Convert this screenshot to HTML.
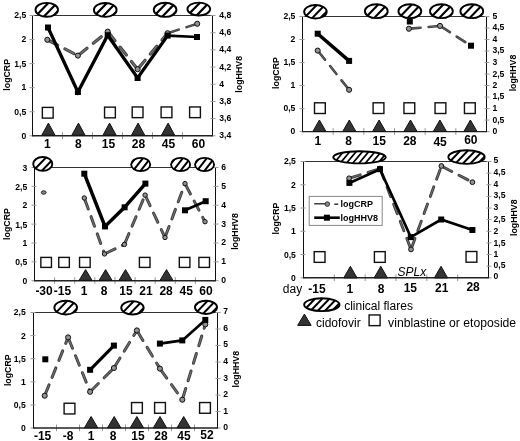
<!DOCTYPE html>
<html><head><meta charset="utf-8"><title>Figure</title>
<style>html,body{margin:0;padding:0;background:#fff;width:520px;height:441px;overflow:hidden;font-family:"Liberation Sans",sans-serif}svg{display:block;will-change:transform}</style>
</head><body>
<svg width="520" height="441" viewBox="0 0 520 441"><defs><clipPath id="c1"><ellipse cx="46.75" cy="9.8" rx="11.25" ry="6.95"/></clipPath><clipPath id="c2"><ellipse cx="105.25" cy="9.9" rx="11.35" ry="6.95"/></clipPath><clipPath id="c3"><ellipse cx="165.1" cy="9.85" rx="11.35" ry="7.05"/></clipPath><clipPath id="c4"><ellipse cx="198.8" cy="9.1" rx="11.35" ry="6.45"/></clipPath><clipPath id="c5"><ellipse cx="315.45" cy="11.75" rx="11.3" ry="6.8"/></clipPath><clipPath id="c6"><ellipse cx="376.3" cy="11.2" rx="11.4" ry="6.95"/></clipPath><clipPath id="c7"><ellipse cx="409.85" cy="11.2" rx="11.4" ry="6.95"/></clipPath><clipPath id="c8"><ellipse cx="441.4" cy="11.2" rx="11.4" ry="6.95"/></clipPath><clipPath id="c9"><ellipse cx="471.8" cy="11.2" rx="11.4" ry="6.95"/></clipPath><clipPath id="c10"><ellipse cx="42.75" cy="163.9" rx="9.55" ry="6.95"/></clipPath><clipPath id="c11"><ellipse cx="140.7" cy="164.5" rx="9.55" ry="6.65"/></clipPath><clipPath id="c12"><ellipse cx="180.6" cy="164.5" rx="9.55" ry="6.65"/></clipPath><clipPath id="c13"><ellipse cx="204.55" cy="164.5" rx="9.55" ry="6.65"/></clipPath><clipPath id="c14"><ellipse cx="359.5" cy="157.3" rx="26.25" ry="6.05"/></clipPath><clipPath id="c15"><ellipse cx="466.5" cy="157.05" rx="18.15" ry="6.8"/></clipPath><clipPath id="c16"><ellipse cx="65.7" cy="307.65" rx="11.35" ry="6.85"/></clipPath><clipPath id="c17"><ellipse cx="132.45" cy="307.85" rx="11.2" ry="6.7"/></clipPath><clipPath id="c18"><ellipse cx="206" cy="307.35" rx="11.05" ry="6.6"/></clipPath><clipPath id="c19"><ellipse cx="321.85" cy="304.7" rx="17.7" ry="6.45"/></clipPath></defs><rect width="100%" height="100%" fill="#fff"/><path d="M32.5 15.5H212.5" stroke="#333" stroke-width="1" fill="none"/>
<path d="M32.5 15V135.8" stroke="#111" stroke-width="1" fill="none"/>
<path d="M212.5 15V135.8" stroke="#111" stroke-width="1" fill="none"/>
<path d="M29.5 135.8H34.5 M29.5 111.74H34.5 M29.5 87.68H34.5 M29.5 63.62H34.5 M29.5 39.56H34.5 M29.5 15.5H34.5 M210.5 135.8H215.5 M210.5 118.61H215.5 M210.5 101.43H215.5 M210.5 84.24H215.5 M210.5 67.06H215.5 M210.5 49.87H215.5 M210.5 32.69H215.5 M210.5 15.5H215.5 M62.5 132.3V139 M92.5 132.3V139 M122.5 132.3V139 M152.5 132.3V139 M182.5 132.3V139" stroke="#999" stroke-width="1" fill="none"/>
<path d="M32 135.8H213" stroke="#222" stroke-width="1.4" fill="none"/>
<text x="26.2" y="138.6" font-size="8.6" text-anchor="end" font-family="Liberation Sans" font-weight="bold" >0</text>
<text x="26.2" y="115.1" font-size="8.6" text-anchor="end" font-family="Liberation Sans" font-weight="bold" >0,5</text>
<text x="26.2" y="90.3" font-size="8.6" text-anchor="end" font-family="Liberation Sans" font-weight="bold" >1</text>
<text x="26.2" y="66.7" font-size="8.6" text-anchor="end" font-family="Liberation Sans" font-weight="bold" >1,5</text>
<text x="26.2" y="41.6" font-size="8.6" text-anchor="end" font-family="Liberation Sans" font-weight="bold" >2</text>
<text x="26.2" y="18" font-size="8.6" text-anchor="end" font-family="Liberation Sans" font-weight="bold" >2,5</text>
<text x="219.3" y="137.6" font-size="8.6" text-anchor="start" font-family="Liberation Sans" font-weight="bold" >3,4</text>
<text x="219.3" y="120.7" font-size="8.6" text-anchor="start" font-family="Liberation Sans" font-weight="bold" >3,6</text>
<text x="219.3" y="103.6" font-size="8.6" text-anchor="start" font-family="Liberation Sans" font-weight="bold" >3,8</text>
<text x="219.3" y="86.5" font-size="8.6" text-anchor="start" font-family="Liberation Sans" font-weight="bold" >4</text>
<text x="219.3" y="69.5" font-size="8.6" text-anchor="start" font-family="Liberation Sans" font-weight="bold" >4,2</text>
<text x="219.3" y="52.3" font-size="8.6" text-anchor="start" font-family="Liberation Sans" font-weight="bold" >4,4</text>
<text x="219.3" y="35.1" font-size="8.6" text-anchor="start" font-family="Liberation Sans" font-weight="bold" >4,6</text>
<text x="219.3" y="18.2" font-size="8.6" text-anchor="start" font-family="Liberation Sans" font-weight="bold" >4,8</text>
<text x="47.4" y="148.22" font-size="12" text-anchor="middle" font-family="Liberation Sans" font-weight="bold" >1</text>
<text x="78.4" y="148.22" font-size="12" text-anchor="middle" font-family="Liberation Sans" font-weight="bold" >8</text>
<text x="108.4" y="148.22" font-size="12" text-anchor="middle" font-family="Liberation Sans" font-weight="bold" >15</text>
<text x="138.4" y="148.22" font-size="12" text-anchor="middle" font-family="Liberation Sans" font-weight="bold" >28</text>
<text x="168.4" y="148.22" font-size="12" text-anchor="middle" font-family="Liberation Sans" font-weight="bold" >45</text>
<text x="198.4" y="148.22" font-size="12" text-anchor="middle" font-family="Liberation Sans" font-weight="bold" >60</text>
<text transform="translate(6.6 74.8) rotate(-90)" font-size="8.8" text-anchor="middle" font-family="Liberation Sans" font-weight="bold" dominant-baseline="central">logCRP</text>
<text transform="translate(238.8 74.3) rotate(-90)" font-size="8.8" text-anchor="middle" font-family="Liberation Sans" font-weight="bold" dominant-baseline="central">logHHV8</text>
<rect x="42.35" y="107.4" width="10.8" height="10.7" fill="#fff" stroke="#111" stroke-width="1.4"/>
<rect x="104.55" y="107.15" width="10.8" height="10.7" fill="#fff" stroke="#111" stroke-width="1.4"/>
<rect x="132.2" y="106.95" width="10.8" height="10.7" fill="#fff" stroke="#111" stroke-width="1.4"/>
<rect x="161.1" y="106.95" width="10.8" height="10.7" fill="#fff" stroke="#111" stroke-width="1.4"/>
<rect x="189.6" y="106.95" width="10.8" height="10.7" fill="#fff" stroke="#111" stroke-width="1.4"/>
<path d="M41.8 135.2L48.4 123.1L55 135.2Z" fill="#333" stroke="#111" stroke-width="1" stroke-linejoin="miter"/>
<path d="M71.85 135.2L78.45 123.1L85.05 135.2Z" fill="#333" stroke="#111" stroke-width="1" stroke-linejoin="miter"/>
<path d="M102.95 135.2L109.55 123.1L116.15 135.2Z" fill="#333" stroke="#111" stroke-width="1" stroke-linejoin="miter"/>
<path d="M131.5 135.2L138.1 123.1L144.7 135.2Z" fill="#333" stroke="#111" stroke-width="1" stroke-linejoin="miter"/>
<path d="M161.5 135.2L168.1 123.1L174.7 135.2Z" fill="#333" stroke="#111" stroke-width="1" stroke-linejoin="miter"/>
<g fill="none" stroke="#3e3e3e" stroke-width="3.2" stroke-dasharray="10.2 8.1" stroke-dashoffset="-1.5" stroke-linecap="round"><path d="M47.3 39.8L77.9 55.6"/><path d="M77.9 55.6L107.7 31.6"/><path d="M107.7 31.6L137.6 69.2"/><path d="M137.6 69.2L167.6 33.2"/></g>
<g fill="none" stroke="#727272" stroke-width="1.3" stroke-dasharray="10.2 8.1" stroke-dashoffset="-1.5" stroke-linecap="round"><path d="M47.3 39.8L77.9 55.6"/><path d="M77.9 55.6L107.7 31.6"/><path d="M107.7 31.6L137.6 69.2"/><path d="M137.6 69.2L167.6 33.2"/></g>
<g fill="none" stroke="#3e3e3e" stroke-width="2.5" stroke-dasharray="10.2 8.1" stroke-dashoffset="-1.5" stroke-linecap="round"><path d="M167.6 33.2L197.2 23.75"/></g>
<g fill="none" stroke="#727272" stroke-width="0.6" stroke-dasharray="10.2 8.1" stroke-dashoffset="-1.5" stroke-linecap="round"><path d="M167.6 33.2L197.2 23.75"/></g>
<path d="M48 27.5 L77.9 92 L107.7 35.2 L137.6 78 L167.6 35.6" fill="none" stroke="#000" stroke-width="3.3" stroke-linejoin="miter"/>
<path d="M167.6 35.6 L197 37" fill="none" stroke="#000" stroke-width="2.6" stroke-linejoin="miter"/>
<circle cx="47.3" cy="39.8" r="2.55" fill="#929292" stroke="#111" stroke-width="1"/>
<circle cx="77.9" cy="55.6" r="2.55" fill="#929292" stroke="#111" stroke-width="1"/>
<circle cx="107.7" cy="31.6" r="2.55" fill="#929292" stroke="#111" stroke-width="1"/>
<circle cx="137.6" cy="69.2" r="2.55" fill="#929292" stroke="#111" stroke-width="1"/>
<circle cx="167.6" cy="33.2" r="2.55" fill="#929292" stroke="#111" stroke-width="1"/>
<circle cx="197.2" cy="23.75" r="2.55" fill="#929292" stroke="#111" stroke-width="1"/>
<rect x="45" y="24.5" width="6" height="6" fill="#000"/>
<rect x="74.9" y="89" width="6" height="6" fill="#000"/>
<rect x="104.7" y="32.2" width="6" height="6" fill="#000"/>
<rect x="134.6" y="75" width="6" height="6" fill="#000"/>
<rect x="164.6" y="32.6" width="6" height="6" fill="#000"/>
<rect x="194" y="34" width="6" height="6" fill="#000"/>
<ellipse cx="46.75" cy="9.8" rx="11.25" ry="6.95" fill="#fff"/>
<path clip-path="url(#c1)" d="M14.79 19.7L33.91 -0.1 M23.49 19.7L42.61 -0.1 M32.19 19.7L51.31 -0.1 M40.89 19.7L60.01 -0.1 M49.59 19.7L68.71 -0.1 M58.29 19.7L77.41 -0.1" stroke="#000" stroke-width="2.2" fill="none"/>
<ellipse cx="46.75" cy="9.8" rx="11.25" ry="6.95" fill="none" stroke="#000" stroke-width="1.9"/>
<ellipse cx="105.25" cy="9.9" rx="11.35" ry="6.95" fill="#fff"/>
<path clip-path="url(#c2)" d="M72.89 19.8L92.01 0 M81.79 19.8L100.91 0 M90.69 19.8L109.81 0 M99.59 19.8L118.71 0 M108.49 19.8L127.61 0 M117.39 19.8L136.51 0" stroke="#000" stroke-width="2.2" fill="none"/>
<ellipse cx="105.25" cy="9.9" rx="11.35" ry="6.95" fill="none" stroke="#000" stroke-width="1.9"/>
<ellipse cx="165.1" cy="9.85" rx="11.35" ry="7.05" fill="#fff"/>
<path clip-path="url(#c3)" d="M132.44 19.85L151.76 -0.15 M141.34 19.85L160.66 -0.15 M150.24 19.85L169.56 -0.15 M159.14 19.85L178.46 -0.15 M168.04 19.85L187.36 -0.15 M176.94 19.85L196.26 -0.15" stroke="#000" stroke-width="2.2" fill="none"/>
<ellipse cx="165.1" cy="9.85" rx="11.35" ry="7.05" fill="none" stroke="#000" stroke-width="1.9"/>
<ellipse cx="198.8" cy="9.1" rx="11.35" ry="6.45" fill="#fff"/>
<path clip-path="url(#c4)" d="M166.72 18.5L184.88 -0.3 M175.72 18.5L193.88 -0.3 M184.72 18.5L202.88 -0.3 M193.72 18.5L211.88 -0.3 M202.72 18.5L220.88 -0.3 M211.72 18.5L229.88 -0.3" stroke="#000" stroke-width="2.2" fill="none"/>
<ellipse cx="198.8" cy="9.1" rx="11.35" ry="6.45" fill="none" stroke="#000" stroke-width="1.9"/>
<path d="M302.5 16.5H486.5" stroke="#333" stroke-width="1" fill="none"/>
<path d="M302.5 16V131.6" stroke="#111" stroke-width="1" fill="none"/>
<path d="M486.5 16V131.6" stroke="#111" stroke-width="1" fill="none"/>
<path d="M299.5 131.6H304.5 M299.5 108.58H304.5 M299.5 85.56H304.5 M299.5 62.54H304.5 M299.5 39.52H304.5 M299.5 16.5H304.5 M484.5 131.6H489.5 M484.5 120.09H489.5 M484.5 108.58H489.5 M484.5 97.07H489.5 M484.5 85.56H489.5 M484.5 74.05H489.5 M484.5 62.54H489.5 M484.5 51.03H489.5 M484.5 39.52H489.5 M484.5 28.01H489.5 M484.5 16.5H489.5 M333.17 128.1V134.8 M363.83 128.1V134.8 M394.5 128.1V134.8 M425.17 128.1V134.8 M455.83 128.1V134.8" stroke="#999" stroke-width="1" fill="none"/>
<path d="M302 131.6H487" stroke="#222" stroke-width="1.4" fill="none"/>
<text x="295.4" y="134.4" font-size="8.6" text-anchor="end" font-family="Liberation Sans" font-weight="bold" >0</text>
<text x="295.4" y="111.4" font-size="8.6" text-anchor="end" font-family="Liberation Sans" font-weight="bold" >0,5</text>
<text x="295.4" y="88.3" font-size="8.6" text-anchor="end" font-family="Liberation Sans" font-weight="bold" >1</text>
<text x="295.4" y="64.9" font-size="8.6" text-anchor="end" font-family="Liberation Sans" font-weight="bold" >1,5</text>
<text x="295.4" y="41.8" font-size="8.6" text-anchor="end" font-family="Liberation Sans" font-weight="bold" >2</text>
<text x="295.4" y="19.3" font-size="8.6" text-anchor="end" font-family="Liberation Sans" font-weight="bold" >2,5</text>
<text x="492.4" y="133.8" font-size="8.6" text-anchor="start" font-family="Liberation Sans" font-weight="bold" >0</text>
<text x="492.4" y="122.6" font-size="8.6" text-anchor="start" font-family="Liberation Sans" font-weight="bold" >0,5</text>
<text x="492.4" y="111" font-size="8.6" text-anchor="start" font-family="Liberation Sans" font-weight="bold" >1</text>
<text x="492.4" y="99.1" font-size="8.6" text-anchor="start" font-family="Liberation Sans" font-weight="bold" >1,5</text>
<text x="492.4" y="87.5" font-size="8.6" text-anchor="start" font-family="Liberation Sans" font-weight="bold" >2</text>
<text x="492.4" y="76.7" font-size="8.6" text-anchor="start" font-family="Liberation Sans" font-weight="bold" >2,5</text>
<text x="492.4" y="64.8" font-size="8.6" text-anchor="start" font-family="Liberation Sans" font-weight="bold" >3</text>
<text x="492.4" y="53.3" font-size="8.6" text-anchor="start" font-family="Liberation Sans" font-weight="bold" >3,5</text>
<text x="492.4" y="41.8" font-size="8.6" text-anchor="start" font-family="Liberation Sans" font-weight="bold" >4</text>
<text x="492.4" y="30.2" font-size="8.6" text-anchor="start" font-family="Liberation Sans" font-weight="bold" >4,5</text>
<text x="492.4" y="18.6" font-size="8.6" text-anchor="start" font-family="Liberation Sans" font-weight="bold" >5</text>
<text x="317.83" y="144.62" font-size="12" text-anchor="middle" font-family="Liberation Sans" font-weight="bold" >1</text>
<text x="348.5" y="144.62" font-size="12" text-anchor="middle" font-family="Liberation Sans" font-weight="bold" >8</text>
<text x="379.17" y="144.62" font-size="12" text-anchor="middle" font-family="Liberation Sans" font-weight="bold" >15</text>
<text x="409.83" y="144.62" font-size="12" text-anchor="middle" font-family="Liberation Sans" font-weight="bold" >28</text>
<text x="440.1" y="145.82" font-size="12" text-anchor="middle" font-family="Liberation Sans" font-weight="bold" >45</text>
<text x="470.87" y="143.82" font-size="12" text-anchor="middle" font-family="Liberation Sans" font-weight="bold" >60</text>
<text transform="translate(275.8 73) rotate(-90)" font-size="8.8" text-anchor="middle" font-family="Liberation Sans" font-weight="bold" dominant-baseline="central">logCRP</text>
<text transform="translate(512.6 73) rotate(-90)" font-size="8.8" text-anchor="middle" font-family="Liberation Sans" font-weight="bold" dominant-baseline="central">logHHV8</text>
<rect x="314.5" y="102.8" width="10.8" height="10.7" fill="#fff" stroke="#111" stroke-width="1.4"/>
<rect x="373.1" y="102.8" width="10.8" height="10.7" fill="#fff" stroke="#111" stroke-width="1.4"/>
<rect x="403.95" y="102.8" width="10.8" height="10.7" fill="#fff" stroke="#111" stroke-width="1.4"/>
<rect x="435.05" y="102.8" width="10.8" height="10.7" fill="#fff" stroke="#111" stroke-width="1.4"/>
<rect x="464.45" y="102.8" width="10.8" height="10.7" fill="#fff" stroke="#111" stroke-width="1.4"/>
<path d="M312.8 131.5L319.4 120L326 131.5Z" fill="#333" stroke="#111" stroke-width="1" stroke-linejoin="miter"/>
<path d="M342.7 131.5L349.3 120L355.9 131.5Z" fill="#333" stroke="#111" stroke-width="1" stroke-linejoin="miter"/>
<path d="M372.5 131.5L379.1 120L385.7 131.5Z" fill="#333" stroke="#111" stroke-width="1" stroke-linejoin="miter"/>
<path d="M403.9 131.5L410.5 120L417.1 131.5Z" fill="#333" stroke="#111" stroke-width="1" stroke-linejoin="miter"/>
<path d="M433.3 131.5L439.9 120L446.5 131.5Z" fill="#333" stroke="#111" stroke-width="1" stroke-linejoin="miter"/>
<path d="M463.8 131.5L470.4 120L477 131.5Z" fill="#333" stroke="#111" stroke-width="1" stroke-linejoin="miter"/>
<g fill="none" stroke="#3e3e3e" stroke-width="2.6" stroke-dasharray="10.2 8.1" stroke-dashoffset="-1.5" stroke-linecap="round"><path d="M317.7 50.6L349.1 89.8"/></g>
<g fill="none" stroke="#727272" stroke-width="0.7" stroke-dasharray="10.2 8.1" stroke-dashoffset="-1.5" stroke-linecap="round"><path d="M317.7 50.6L349.1 89.8"/></g>
<g fill="none" stroke="#3e3e3e" stroke-width="2.6" stroke-dasharray="10.2 8.1" stroke-dashoffset="-1.5" stroke-linecap="round"><path d="M408.9 28.75L440 25.9"/><path d="M440 25.9L471 45.7"/></g>
<g fill="none" stroke="#727272" stroke-width="0.7" stroke-dasharray="10.2 8.1" stroke-dashoffset="-1.5" stroke-linecap="round"><path d="M408.9 28.75L440 25.9"/><path d="M440 25.9L471 45.7"/></g>
<path d="M317.7 33.7 L349.1 60.9" fill="none" stroke="#000" stroke-width="3.5" stroke-linejoin="miter"/>
<circle cx="317.7" cy="50.6" r="2.55" fill="#929292" stroke="#111" stroke-width="1"/>
<circle cx="349.1" cy="89.8" r="2.55" fill="#929292" stroke="#111" stroke-width="1"/>
<circle cx="408.9" cy="28.75" r="2.55" fill="#929292" stroke="#111" stroke-width="1"/>
<circle cx="440" cy="25.9" r="2.55" fill="#929292" stroke="#111" stroke-width="1"/>
<rect x="314.7" y="30.7" width="6" height="6" fill="#000"/>
<rect x="346.1" y="57.9" width="6" height="6" fill="#000"/>
<rect x="406.8" y="18.5" width="6" height="6" fill="#000"/>
<rect x="468" y="42.7" width="6" height="6" fill="#000"/>
<ellipse cx="315.45" cy="11.75" rx="11.3" ry="6.8" fill="#fff"/>
<path clip-path="url(#c5)" d="M284.58 21.5L303.42 2 M292.68 21.5L311.52 2 M300.78 21.5L319.62 2 M308.88 21.5L327.72 2 M316.98 21.5L335.82 2 M325.08 21.5L343.92 2" stroke="#000" stroke-width="2" fill="none"/>
<ellipse cx="315.45" cy="11.75" rx="11.3" ry="6.8" fill="none" stroke="#000" stroke-width="1.9"/>
<ellipse cx="376.3" cy="11.2" rx="11.4" ry="6.95" fill="#fff"/>
<path clip-path="url(#c6)" d="M344.44 21.1L363.56 1.3 M353.34 21.1L372.46 1.3 M362.24 21.1L381.36 1.3 M371.14 21.1L390.26 1.3 M380.04 21.1L399.16 1.3 M388.94 21.1L408.06 1.3" stroke="#000" stroke-width="2.1" fill="none"/>
<ellipse cx="376.3" cy="11.2" rx="11.4" ry="6.95" fill="none" stroke="#000" stroke-width="1.9"/>
<ellipse cx="409.85" cy="11.2" rx="11.4" ry="6.95" fill="#fff"/>
<path clip-path="url(#c7)" d="M377.99 21.1L397.11 1.3 M386.89 21.1L406.01 1.3 M395.79 21.1L414.91 1.3 M404.69 21.1L423.81 1.3 M413.59 21.1L432.71 1.3 M422.49 21.1L441.61 1.3" stroke="#000" stroke-width="2.1" fill="none"/>
<ellipse cx="409.85" cy="11.2" rx="11.4" ry="6.95" fill="none" stroke="#000" stroke-width="1.9"/>
<ellipse cx="441.4" cy="11.2" rx="11.4" ry="6.95" fill="#fff"/>
<path clip-path="url(#c8)" d="M409.54 21.1L428.66 1.3 M418.44 21.1L437.56 1.3 M427.34 21.1L446.46 1.3 M436.24 21.1L455.36 1.3 M445.14 21.1L464.26 1.3 M454.04 21.1L473.16 1.3" stroke="#000" stroke-width="2.1" fill="none"/>
<ellipse cx="441.4" cy="11.2" rx="11.4" ry="6.95" fill="none" stroke="#000" stroke-width="1.9"/>
<ellipse cx="471.8" cy="11.2" rx="11.4" ry="6.95" fill="#fff"/>
<path clip-path="url(#c9)" d="M439.94 21.1L459.06 1.3 M448.84 21.1L467.96 1.3 M457.74 21.1L476.86 1.3 M466.64 21.1L485.76 1.3 M475.54 21.1L494.66 1.3 M484.44 21.1L503.56 1.3" stroke="#000" stroke-width="2.1" fill="none"/>
<ellipse cx="471.8" cy="11.2" rx="11.4" ry="6.95" fill="none" stroke="#000" stroke-width="1.9"/>
<path d="M34.5 167.5H215.5" stroke="#333" stroke-width="1" fill="none"/>
<path d="M34.5 167V280.7" stroke="#111" stroke-width="1" fill="none"/>
<path d="M215.5 167V280.7" stroke="#111" stroke-width="1" fill="none"/>
<path d="M31.5 280.7H36.5 M31.5 261.83H36.5 M31.5 242.97H36.5 M31.5 224.1H36.5 M31.5 205.23H36.5 M31.5 186.37H36.5 M31.5 167.5H36.5 M213.5 280.7H218.5 M213.5 261.83H218.5 M213.5 242.97H218.5 M213.5 224.1H218.5 M213.5 205.23H218.5 M213.5 186.37H218.5 M213.5 167.5H218.5 M54.61 277.2V283.9 M74.72 277.2V283.9 M94.83 277.2V283.9 M114.94 277.2V283.9 M135.06 277.2V283.9 M155.17 277.2V283.9 M175.28 277.2V283.9 M195.39 277.2V283.9" stroke="#999" stroke-width="1" fill="none"/>
<path d="M34 280.7H216" stroke="#222" stroke-width="1.4" fill="none"/>
<text x="27.2" y="283.9" font-size="8.6" text-anchor="end" font-family="Liberation Sans" font-weight="bold" >0</text>
<text x="27.2" y="265.3" font-size="8.6" text-anchor="end" font-family="Liberation Sans" font-weight="bold" >0,5</text>
<text x="27.2" y="245.8" font-size="8.6" text-anchor="end" font-family="Liberation Sans" font-weight="bold" >1</text>
<text x="27.2" y="227.7" font-size="8.6" text-anchor="end" font-family="Liberation Sans" font-weight="bold" >1,5</text>
<text x="27.2" y="208.1" font-size="8.6" text-anchor="end" font-family="Liberation Sans" font-weight="bold" >2</text>
<text x="27.2" y="189.7" font-size="8.6" text-anchor="end" font-family="Liberation Sans" font-weight="bold" >2,5</text>
<text x="27.2" y="170.7" font-size="8.6" text-anchor="end" font-family="Liberation Sans" font-weight="bold" >3</text>
<text x="221.3" y="282.7" font-size="8.6" text-anchor="start" font-family="Liberation Sans" font-weight="bold" >0</text>
<text x="221.3" y="264.4" font-size="8.6" text-anchor="start" font-family="Liberation Sans" font-weight="bold" >1</text>
<text x="221.3" y="245.2" font-size="8.6" text-anchor="start" font-family="Liberation Sans" font-weight="bold" >2</text>
<text x="221.3" y="226.6" font-size="8.6" text-anchor="start" font-family="Liberation Sans" font-weight="bold" >3</text>
<text x="221.3" y="208" font-size="8.6" text-anchor="start" font-family="Liberation Sans" font-weight="bold" >4</text>
<text x="221.3" y="189.2" font-size="8.6" text-anchor="start" font-family="Liberation Sans" font-weight="bold" >5</text>
<text x="221.3" y="169.6" font-size="8.6" text-anchor="start" font-family="Liberation Sans" font-weight="bold" >6</text>
<text x="44.06" y="294.82" font-size="12" text-anchor="middle" font-family="Liberation Sans" font-weight="bold" >-30</text>
<text x="62.47" y="294.82" font-size="12" text-anchor="middle" font-family="Liberation Sans" font-weight="bold" >-15</text>
<text x="84.08" y="294.82" font-size="12" text-anchor="middle" font-family="Liberation Sans" font-weight="bold" >1</text>
<text x="104.19" y="294.82" font-size="12" text-anchor="middle" font-family="Liberation Sans" font-weight="bold" >8</text>
<text x="125.9" y="294.82" font-size="12" text-anchor="middle" font-family="Liberation Sans" font-weight="bold" >15</text>
<text x="146.01" y="294.82" font-size="12" text-anchor="middle" font-family="Liberation Sans" font-weight="bold" >21</text>
<text x="166.12" y="294.82" font-size="12" text-anchor="middle" font-family="Liberation Sans" font-weight="bold" >28</text>
<text x="186.23" y="294.82" font-size="12" text-anchor="middle" font-family="Liberation Sans" font-weight="bold" >45</text>
<text x="205.94" y="294.82" font-size="12" text-anchor="middle" font-family="Liberation Sans" font-weight="bold" >60</text>
<text transform="translate(7.4 224) rotate(-90)" font-size="8.8" text-anchor="middle" font-family="Liberation Sans" font-weight="bold" dominant-baseline="central">logCRP</text>
<text transform="translate(234.8 231.5) rotate(-90)" font-size="8.8" text-anchor="middle" font-family="Liberation Sans" font-weight="bold" dominant-baseline="central">logHHV8</text>
<rect x="40.85" y="257.4" width="10.6" height="10" fill="#fff" stroke="#111" stroke-width="1.4"/>
<rect x="58.75" y="257.4" width="10.6" height="10" fill="#fff" stroke="#111" stroke-width="1.4"/>
<rect x="79.55" y="257.4" width="10.6" height="10" fill="#fff" stroke="#111" stroke-width="1.4"/>
<rect x="139.4" y="257.4" width="10.6" height="10" fill="#fff" stroke="#111" stroke-width="1.4"/>
<rect x="179.3" y="257.4" width="10.6" height="10" fill="#fff" stroke="#111" stroke-width="1.4"/>
<rect x="198.9" y="257.4" width="10.6" height="10" fill="#fff" stroke="#111" stroke-width="1.4"/>
<path d="M79.1 280.4L85.6 269.6L92.1 280.4Z" fill="#333" stroke="#111" stroke-width="1" stroke-linejoin="miter"/>
<path d="M99.1 280.4L105.6 269.6L112.1 280.4Z" fill="#333" stroke="#111" stroke-width="1" stroke-linejoin="miter"/>
<path d="M119 280.4L125.5 269.6L132 280.4Z" fill="#333" stroke="#111" stroke-width="1" stroke-linejoin="miter"/>
<path d="M160 280.4L166.5 269.6L173 280.4Z" fill="#333" stroke="#111" stroke-width="1" stroke-linejoin="miter"/>
<ellipse cx="43.7" cy="192.5" rx="2.4" ry="1.7" fill="#8a8a8a" stroke="#222" stroke-width="1"/>
<g fill="none" stroke="#3e3e3e" stroke-width="3" stroke-dasharray="10.2 8.1" stroke-dashoffset="-1.5" stroke-linecap="round"><path d="M84.3 198L104.5 253.9"/><path d="M104.5 253.9L124.4 244.4"/><path d="M124.4 244.4L145.1 195.1"/><path d="M145.1 195.1L165 237.5"/><path d="M165 237.5L185 183.6"/><path d="M185 183.6L205 221.7"/></g>
<g fill="none" stroke="#727272" stroke-width="1.1" stroke-dasharray="10.2 8.1" stroke-dashoffset="-1.5" stroke-linecap="round"><path d="M84.3 198L104.5 253.9"/><path d="M104.5 253.9L124.4 244.4"/><path d="M124.4 244.4L145.1 195.1"/><path d="M145.1 195.1L165 237.5"/><path d="M165 237.5L185 183.6"/><path d="M185 183.6L205 221.7"/></g>
<path d="M84.3 173.7 L105 226.4 L124.6 207.3 L145.4 183.6" fill="none" stroke="#000" stroke-width="3.5" stroke-linejoin="miter"/>
<path d="M185 210.3 L205.7 201.2" fill="none" stroke="#000" stroke-width="2.6" stroke-linejoin="miter"/>
<circle cx="84.3" cy="198" r="2.2" fill="#929292" stroke="#111" stroke-width="1"/>
<circle cx="104.5" cy="253.9" r="2.2" fill="#929292" stroke="#111" stroke-width="1"/>
<circle cx="124.4" cy="244.4" r="2.2" fill="#929292" stroke="#111" stroke-width="1"/>
<circle cx="145.1" cy="195.1" r="2.2" fill="#929292" stroke="#111" stroke-width="1"/>
<circle cx="165" cy="237.5" r="2.2" fill="#929292" stroke="#111" stroke-width="1"/>
<circle cx="185" cy="183.6" r="2.2" fill="#929292" stroke="#111" stroke-width="1"/>
<circle cx="205" cy="221.7" r="2.2" fill="#929292" stroke="#111" stroke-width="1"/>
<rect x="81.3" y="170.7" width="6" height="6" fill="#000"/>
<rect x="102" y="223.4" width="6" height="6" fill="#000"/>
<rect x="121.6" y="204.3" width="6" height="6" fill="#000"/>
<rect x="142.4" y="180.6" width="6" height="6" fill="#000"/>
<rect x="182" y="207.3" width="6" height="6" fill="#000"/>
<rect x="202.7" y="198.2" width="6" height="6" fill="#000"/>
<ellipse cx="42.75" cy="163.9" rx="9.55" ry="6.95" fill="#fff"/>
<path clip-path="url(#c10)" d="M13.14 173.8L32.26 154 M21.74 173.8L40.86 154 M30.34 173.8L49.46 154 M38.94 173.8L58.06 154 M47.54 173.8L66.66 154" stroke="#000" stroke-width="2" fill="none"/>
<ellipse cx="42.75" cy="163.9" rx="9.55" ry="6.95" fill="none" stroke="#000" stroke-width="1.9"/>
<ellipse cx="140.7" cy="164.5" rx="9.55" ry="6.65" fill="#fff"/>
<path clip-path="url(#c11)" d="M115.5 174.1L130.5 154.9 M123 174.1L138 154.9 M130.5 174.1L145.5 154.9 M138 174.1L153 154.9 M145.5 174.1L160.5 154.9 M153 174.1L168 154.9" stroke="#000" stroke-width="2" fill="none"/>
<ellipse cx="140.7" cy="164.5" rx="9.55" ry="6.65" fill="none" stroke="#000" stroke-width="1.9"/>
<ellipse cx="180.6" cy="164.5" rx="9.55" ry="6.65" fill="#fff"/>
<path clip-path="url(#c12)" d="M155.4 174.1L170.4 154.9 M162.9 174.1L177.9 154.9 M170.4 174.1L185.4 154.9 M177.9 174.1L192.9 154.9 M185.4 174.1L200.4 154.9 M192.9 174.1L207.9 154.9" stroke="#000" stroke-width="2" fill="none"/>
<ellipse cx="180.6" cy="164.5" rx="9.55" ry="6.65" fill="none" stroke="#000" stroke-width="1.9"/>
<ellipse cx="204.55" cy="164.5" rx="9.55" ry="6.65" fill="#fff"/>
<path clip-path="url(#c13)" d="M179.35 174.1L194.35 154.9 M186.85 174.1L201.85 154.9 M194.35 174.1L209.35 154.9 M201.85 174.1L216.85 154.9 M209.35 174.1L224.35 154.9 M216.85 174.1L231.85 154.9" stroke="#000" stroke-width="2" fill="none"/>
<ellipse cx="204.55" cy="164.5" rx="9.55" ry="6.65" fill="none" stroke="#000" stroke-width="1.9"/>
<path d="M303.5 161.5H488.5" stroke="#333" stroke-width="1" fill="none"/>
<path d="M303.5 161V277.8" stroke="#111" stroke-width="1" fill="none"/>
<path d="M488.5 161V277.8" stroke="#111" stroke-width="1" fill="none"/>
<path d="M300.5 277.8H305.5 M300.5 254.54H305.5 M300.5 231.28H305.5 M300.5 208.02H305.5 M300.5 184.76H305.5 M300.5 161.5H305.5 M486.5 277.8H491.5 M486.5 266.17H491.5 M486.5 254.54H491.5 M486.5 242.91H491.5 M486.5 231.28H491.5 M486.5 219.65H491.5 M486.5 208.02H491.5 M486.5 196.39H491.5 M486.5 184.76H491.5 M486.5 173.13H491.5 M486.5 161.5H491.5 M334.33 274.3V281 M365.17 274.3V281 M396 274.3V281 M426.83 274.3V281 M457.67 274.3V281" stroke="#999" stroke-width="1" fill="none"/>
<path d="M303 277.8H489" stroke="#222" stroke-width="1.4" fill="none"/>
<text x="295.9" y="280.7" font-size="8.6" text-anchor="end" font-family="Liberation Sans" font-weight="bold" >0</text>
<text x="295.9" y="257.6" font-size="8.6" text-anchor="end" font-family="Liberation Sans" font-weight="bold" >0,5</text>
<text x="295.9" y="234.2" font-size="8.6" text-anchor="end" font-family="Liberation Sans" font-weight="bold" >1</text>
<text x="295.9" y="210.9" font-size="8.6" text-anchor="end" font-family="Liberation Sans" font-weight="bold" >1,5</text>
<text x="295.9" y="187.9" font-size="8.6" text-anchor="end" font-family="Liberation Sans" font-weight="bold" >2</text>
<text x="295.9" y="164.1" font-size="8.6" text-anchor="end" font-family="Liberation Sans" font-weight="bold" >2,5</text>
<text x="493.5" y="279.4" font-size="8.6" text-anchor="start" font-family="Liberation Sans" font-weight="bold" >0</text>
<text x="493.5" y="268" font-size="8.6" text-anchor="start" font-family="Liberation Sans" font-weight="bold" >0,5</text>
<text x="493.5" y="256.8" font-size="8.6" text-anchor="start" font-family="Liberation Sans" font-weight="bold" >1</text>
<text x="493.5" y="245.5" font-size="8.6" text-anchor="start" font-family="Liberation Sans" font-weight="bold" >1,5</text>
<text x="493.5" y="233.7" font-size="8.6" text-anchor="start" font-family="Liberation Sans" font-weight="bold" >2</text>
<text x="493.5" y="221.6" font-size="8.6" text-anchor="start" font-family="Liberation Sans" font-weight="bold" >2,5</text>
<text x="493.5" y="209.5" font-size="8.6" text-anchor="start" font-family="Liberation Sans" font-weight="bold" >3</text>
<text x="493.5" y="197.9" font-size="8.6" text-anchor="start" font-family="Liberation Sans" font-weight="bold" >3,5</text>
<text x="493.5" y="186.8" font-size="8.6" text-anchor="start" font-family="Liberation Sans" font-weight="bold" >4</text>
<text x="493.5" y="175.2" font-size="8.6" text-anchor="start" font-family="Liberation Sans" font-weight="bold" >4,5</text>
<text x="493.5" y="163.4" font-size="8.6" text-anchor="start" font-family="Liberation Sans" font-weight="bold" >5</text>
<text x="317.02" y="293.12" font-size="12" text-anchor="middle" font-family="Liberation Sans" font-weight="bold" >-15</text>
<text x="349.95" y="293.12" font-size="12" text-anchor="middle" font-family="Liberation Sans" font-weight="bold" >1</text>
<text x="380.98" y="293.12" font-size="12" text-anchor="middle" font-family="Liberation Sans" font-weight="bold" >8</text>
<text x="410.32" y="292.22" font-size="12" text-anchor="middle" font-family="Liberation Sans" font-weight="bold" >15</text>
<text x="441.75" y="292.12" font-size="12" text-anchor="middle" font-family="Liberation Sans" font-weight="bold" >21</text>
<text x="473.08" y="291.12" font-size="12" text-anchor="middle" font-family="Liberation Sans" font-weight="bold" >28</text>
<text transform="translate(275.9 218.5) rotate(-90)" font-size="8.8" text-anchor="middle" font-family="Liberation Sans" font-weight="bold" dominant-baseline="central">logCRP</text>
<text transform="translate(514.2 217.7) rotate(-90)" font-size="8.8" text-anchor="middle" font-family="Liberation Sans" font-weight="bold" dominant-baseline="central">logHHV8</text>
<rect x="314.2" y="251.65" width="10.8" height="10.7" fill="#fff" stroke="#111" stroke-width="1.4"/>
<rect x="374.4" y="251.65" width="10.8" height="10.7" fill="#fff" stroke="#111" stroke-width="1.4"/>
<rect x="466.05" y="251.5" width="10.8" height="10.7" fill="#fff" stroke="#111" stroke-width="1.4"/>
<path d="M343.75 277.9L350.4 266.3L357.05 277.9Z" fill="#333" stroke="#111" stroke-width="1" stroke-linejoin="miter"/>
<path d="M374.15 277.9L380.8 266.3L387.45 277.9Z" fill="#333" stroke="#111" stroke-width="1" stroke-linejoin="miter"/>
<path d="M434.35 277.9L441 266.3L447.65 277.9Z" fill="#333" stroke="#111" stroke-width="1" stroke-linejoin="miter"/>
<text x="292.5" y="293.32" font-size="12" text-anchor="middle" font-family="Liberation Sans" >day</text>
<text x="411.8" y="275.8" font-size="12" text-anchor="middle" font-family="Liberation Sans" font-style="italic">SPLx</text>
<g fill="none" stroke="#3e3e3e" stroke-width="2.9" stroke-dasharray="10.2 8.1" stroke-dashoffset="-1.5" stroke-linecap="round"><path d="M349.1 178.3L380 168.6"/><path d="M380 168.6L411 249.4"/><path d="M411 249.4L441.4 166"/><path d="M441.4 166L472.4 182.2"/></g>
<g fill="none" stroke="#727272" stroke-width="1" stroke-dasharray="10.2 8.1" stroke-dashoffset="-1.5" stroke-linecap="round"><path d="M349.1 178.3L380 168.6"/><path d="M380 168.6L411 249.4"/><path d="M411 249.4L441.4 166"/><path d="M441.4 166L472.4 182.2"/></g>
<circle cx="349.1" cy="178.3" r="2.4" fill="#929292" stroke="#111" stroke-width="1"/>
<circle cx="380" cy="168.6" r="2.4" fill="#929292" stroke="#111" stroke-width="1"/>
<circle cx="411" cy="249.4" r="2.4" fill="#929292" stroke="#111" stroke-width="1"/>
<circle cx="441.4" cy="166" r="2.4" fill="#929292" stroke="#111" stroke-width="1"/>
<circle cx="472.4" cy="182.2" r="2.4" fill="#929292" stroke="#111" stroke-width="1"/>
<path d="M349.4 182.9 L380 169.2 L410.8 237.1 L441.2 219.5 L472.4 230" fill="none" stroke="#000" stroke-width="2.7" stroke-linejoin="miter"/>
<rect x="346.4" y="179.9" width="6" height="6" fill="#000"/>
<rect x="377" y="166.2" width="6" height="6" fill="#000"/>
<rect x="407.8" y="234.1" width="6" height="6" fill="#000"/>
<rect x="438.2" y="216.5" width="6" height="6" fill="#000"/>
<rect x="469.4" y="227" width="6" height="6" fill="#000"/>
<ellipse cx="359.5" cy="157.3" rx="26.25" ry="6.05" fill="#fff"/>
<path clip-path="url(#c14)" d="M318.65 166.3L333.75 148.3 M324.95 166.3L340.05 148.3 M331.25 166.3L346.35 148.3 M337.55 166.3L352.65 148.3 M343.85 166.3L358.95 148.3 M350.15 166.3L365.25 148.3 M356.45 166.3L371.55 148.3 M362.75 166.3L377.85 148.3 M369.05 166.3L384.15 148.3 M375.35 166.3L390.45 148.3 M381.65 166.3L396.75 148.3 M387.95 166.3L403.05 148.3" stroke="#000" stroke-width="1.7" fill="none"/>
<ellipse cx="359.5" cy="157.3" rx="26.25" ry="6.05" fill="none" stroke="#000" stroke-width="1.9"/>
<ellipse cx="466.5" cy="157.05" rx="18.15" ry="6.8" fill="#fff"/>
<path clip-path="url(#c15)" d="M429.78 166.8L448.62 147.3 M437.28 166.8L456.12 147.3 M444.78 166.8L463.62 147.3 M452.28 166.8L471.12 147.3 M459.78 166.8L478.62 147.3 M467.28 166.8L486.12 147.3 M474.78 166.8L493.62 147.3 M482.28 166.8L501.12 147.3" stroke="#000" stroke-width="2" fill="none"/>
<ellipse cx="466.5" cy="157.05" rx="18.15" ry="6.8" fill="none" stroke="#000" stroke-width="1.9"/>
<rect x="309.2" y="196.4" width="73" height="29" fill="#fff" stroke="#888" stroke-width="1"/>
<path d="M314.2 203.8H326" stroke="#222" stroke-width="1.3"/>
<circle cx="327.3" cy="204.1" r="2.3" fill="#8a8a8a" stroke="#333" stroke-width="1"/>
<path d="M334.3 204.2H338.2" stroke="#222" stroke-width="1.4"/>
<text x="340.6" y="207.2" font-size="9" text-anchor="start" font-family="Liberation Sans" font-weight="bold" >logCRP</text>
<path d="M314.2 217.7H339.8" stroke="#000" stroke-width="2.6"/>
<rect x="323.9" y="214.7" width="6" height="6" fill="#000"/>
<text x="340.6" y="220.8" font-size="9" text-anchor="start" font-family="Liberation Sans" font-weight="bold" >logHHV8</text>
<path d="M33.5 312.5H217.5" stroke="#333" stroke-width="1" fill="none"/>
<path d="M33.5 312V428" stroke="#111" stroke-width="1" fill="none"/>
<path d="M217.5 312V428" stroke="#111" stroke-width="1" fill="none"/>
<path d="M30.5 428H35.5 M30.5 404.9H35.5 M30.5 381.8H35.5 M30.5 358.7H35.5 M30.5 335.6H35.5 M30.5 312.5H35.5 M215.5 428H220.5 M215.5 411.5H220.5 M215.5 395H220.5 M215.5 378.5H220.5 M215.5 362H220.5 M215.5 345.5H220.5 M215.5 329H220.5 M215.5 312.5H220.5 M56.5 424.5V431.2 M79.5 424.5V431.2 M102.5 424.5V431.2 M125.5 424.5V431.2 M148.5 424.5V431.2 M171.5 424.5V431.2 M194.5 424.5V431.2" stroke="#999" stroke-width="1" fill="none"/>
<path d="M33 428H218" stroke="#222" stroke-width="1.4" fill="none"/>
<text x="25.8" y="431.1" font-size="8.6" text-anchor="end" font-family="Liberation Sans" font-weight="bold" >0</text>
<text x="25.8" y="408.3" font-size="8.6" text-anchor="end" font-family="Liberation Sans" font-weight="bold" >0,5</text>
<text x="25.8" y="384.9" font-size="8.6" text-anchor="end" font-family="Liberation Sans" font-weight="bold" >1</text>
<text x="25.8" y="361.9" font-size="8.6" text-anchor="end" font-family="Liberation Sans" font-weight="bold" >1,5</text>
<text x="25.8" y="338.8" font-size="8.6" text-anchor="end" font-family="Liberation Sans" font-weight="bold" >2</text>
<text x="25.8" y="315" font-size="8.6" text-anchor="end" font-family="Liberation Sans" font-weight="bold" >2,5</text>
<text x="223.3" y="430.2" font-size="8.6" text-anchor="start" font-family="Liberation Sans" font-weight="bold" >0</text>
<text x="223.3" y="413.95" font-size="8.6" text-anchor="start" font-family="Liberation Sans" font-weight="bold" >1</text>
<text x="223.3" y="397.3" font-size="8.6" text-anchor="start" font-family="Liberation Sans" font-weight="bold" >2</text>
<text x="223.3" y="381" font-size="8.6" text-anchor="start" font-family="Liberation Sans" font-weight="bold" >3</text>
<text x="223.3" y="364" font-size="8.6" text-anchor="start" font-family="Liberation Sans" font-weight="bold" >4</text>
<text x="223.3" y="347.4" font-size="8.6" text-anchor="start" font-family="Liberation Sans" font-weight="bold" >5</text>
<text x="223.3" y="330.9" font-size="8.6" text-anchor="start" font-family="Liberation Sans" font-weight="bold" >6</text>
<text x="223.3" y="314" font-size="8.6" text-anchor="start" font-family="Liberation Sans" font-weight="bold" >7</text>
<text x="42.6" y="440.12" font-size="12" text-anchor="middle" font-family="Liberation Sans" font-weight="bold" >-15</text>
<text x="68" y="439.62" font-size="12" text-anchor="middle" font-family="Liberation Sans" font-weight="bold" >-8</text>
<text x="91" y="439.62" font-size="12" text-anchor="middle" font-family="Liberation Sans" font-weight="bold" >1</text>
<text x="113.2" y="439.62" font-size="12" text-anchor="middle" font-family="Liberation Sans" font-weight="bold" >8</text>
<text x="137.9" y="439.62" font-size="12" text-anchor="middle" font-family="Liberation Sans" font-weight="bold" >15</text>
<text x="160.9" y="439.62" font-size="12" text-anchor="middle" font-family="Liberation Sans" font-weight="bold" >28</text>
<text x="183.9" y="439.62" font-size="12" text-anchor="middle" font-family="Liberation Sans" font-weight="bold" >45</text>
<text x="206.9" y="439.02" font-size="12" text-anchor="middle" font-family="Liberation Sans" font-weight="bold" >52</text>
<text transform="translate(7.6 370.2) rotate(-90)" font-size="8.8" text-anchor="middle" font-family="Liberation Sans" font-weight="bold" dominant-baseline="central">logCRP</text>
<text transform="translate(236.4 369.2) rotate(-90)" font-size="8.8" text-anchor="middle" font-family="Liberation Sans" font-weight="bold" dominant-baseline="central">logHHV8</text>
<rect x="64.1" y="403.25" width="10.8" height="10.7" fill="#fff" stroke="#111" stroke-width="1.4"/>
<rect x="131.55" y="402.55" width="10.8" height="10.7" fill="#fff" stroke="#111" stroke-width="1.4"/>
<rect x="154.6" y="402.55" width="10.8" height="10.7" fill="#fff" stroke="#111" stroke-width="1.4"/>
<rect x="199.6" y="402.55" width="10.8" height="10.7" fill="#fff" stroke="#111" stroke-width="1.4"/>
<path d="M84.45 427.8L91.1 416.5L97.75 427.8Z" fill="#333" stroke="#111" stroke-width="1" stroke-linejoin="miter"/>
<path d="M107.55 427.8L114.2 416.5L120.85 427.8Z" fill="#333" stroke="#111" stroke-width="1" stroke-linejoin="miter"/>
<path d="M130.25 427.8L136.9 416.5L143.55 427.8Z" fill="#333" stroke="#111" stroke-width="1" stroke-linejoin="miter"/>
<path d="M153.35 427.8L160 416.5L166.65 427.8Z" fill="#333" stroke="#111" stroke-width="1" stroke-linejoin="miter"/>
<path d="M177.05 427.8L183.7 416.5L190.35 427.8Z" fill="#333" stroke="#111" stroke-width="1" stroke-linejoin="miter"/>
<g fill="none" stroke="#3e3e3e" stroke-width="3" stroke-dasharray="10.2 8.1" stroke-dashoffset="-1.5" stroke-linecap="round"><path d="M44.7 395.7L68.1 337.4"/><path d="M68.1 337.4L90.1 391.8"/><path d="M90.1 391.8L113.9 368"/><path d="M113.9 368L136.9 330.4"/><path d="M136.9 330.4L159.9 368.6"/><path d="M159.9 368.6L182.3 399.7"/><path d="M182.3 399.7L205.3 324.4"/></g>
<g fill="none" stroke="#727272" stroke-width="1.1" stroke-dasharray="10.2 8.1" stroke-dashoffset="-1.5" stroke-linecap="round"><path d="M44.7 395.7L68.1 337.4"/><path d="M68.1 337.4L90.1 391.8"/><path d="M90.1 391.8L113.9 368"/><path d="M113.9 368L136.9 330.4"/><path d="M136.9 330.4L159.9 368.6"/><path d="M159.9 368.6L182.3 399.7"/><path d="M182.3 399.7L205.3 324.4"/></g>
<path d="M90.1 369.8 L113.9 345.6" fill="none" stroke="#000" stroke-width="3.1" stroke-linejoin="miter"/>
<path d="M159.9 343.6 L182.3 340.4 L205.3 319.9" fill="none" stroke="#000" stroke-width="2.7" stroke-linejoin="miter"/>
<circle cx="44.7" cy="395.7" r="2.55" fill="#929292" stroke="#111" stroke-width="1"/>
<circle cx="68.1" cy="337.4" r="2.55" fill="#929292" stroke="#111" stroke-width="1"/>
<circle cx="90.1" cy="391.8" r="2.55" fill="#929292" stroke="#111" stroke-width="1"/>
<circle cx="113.9" cy="368" r="2.55" fill="#929292" stroke="#111" stroke-width="1"/>
<circle cx="136.9" cy="330.4" r="2.55" fill="#929292" stroke="#111" stroke-width="1"/>
<circle cx="159.9" cy="368.6" r="2.55" fill="#929292" stroke="#111" stroke-width="1"/>
<circle cx="182.3" cy="399.7" r="2.55" fill="#929292" stroke="#111" stroke-width="1"/>
<circle cx="205.3" cy="324.4" r="2.55" fill="#929292" stroke="#111" stroke-width="1"/>
<rect x="42.3" y="356.3" width="6" height="6" fill="#000"/>
<rect x="87.1" y="366.8" width="6" height="6" fill="#000"/>
<rect x="110.9" y="342.6" width="6" height="6" fill="#000"/>
<rect x="156.9" y="340.6" width="6" height="6" fill="#000"/>
<rect x="179.3" y="337.4" width="6" height="6" fill="#000"/>
<rect x="202.3" y="316.9" width="6" height="6" fill="#000"/>
<ellipse cx="65.7" cy="307.65" rx="11.35" ry="6.85" fill="#fff"/>
<path clip-path="url(#c16)" d="M34.04 317.45L52.96 297.85 M42.64 317.45L61.56 297.85 M51.24 317.45L70.16 297.85 M59.84 317.45L78.76 297.85 M68.44 317.45L87.36 297.85 M77.04 317.45L95.96 297.85" stroke="#000" stroke-width="2" fill="none"/>
<ellipse cx="65.7" cy="307.65" rx="11.35" ry="6.85" fill="none" stroke="#000" stroke-width="1.9"/>
<ellipse cx="132.45" cy="307.85" rx="11.2" ry="6.7" fill="#fff"/>
<path clip-path="url(#c17)" d="M101.38 317.5L120.02 298.2 M109.68 317.5L128.32 298.2 M117.98 317.5L136.62 298.2 M126.28 317.5L144.92 298.2 M134.58 317.5L153.22 298.2 M142.88 317.5L161.52 298.2" stroke="#000" stroke-width="2" fill="none"/>
<ellipse cx="132.45" cy="307.85" rx="11.2" ry="6.7" fill="none" stroke="#000" stroke-width="1.9"/>
<ellipse cx="206" cy="307.35" rx="11.05" ry="6.6" fill="#fff"/>
<path clip-path="url(#c18)" d="M176.28 316.9L194.72 297.8 M184.18 316.9L202.62 297.8 M192.08 316.9L210.52 297.8 M199.98 316.9L218.42 297.8 M207.88 316.9L226.32 297.8 M215.78 316.9L234.22 297.8" stroke="#000" stroke-width="2" fill="none"/>
<ellipse cx="206" cy="307.35" rx="11.05" ry="6.6" fill="none" stroke="#000" stroke-width="1.9"/>
<ellipse cx="321.85" cy="304.7" rx="17.7" ry="6.45" fill="#fff"/>
<path clip-path="url(#c19)" d="M285.82 314.1L303.98 295.3 M293.02 314.1L311.18 295.3 M300.22 314.1L318.38 295.3 M307.42 314.1L325.58 295.3 M314.62 314.1L332.78 295.3 M321.82 314.1L339.98 295.3 M329.02 314.1L347.18 295.3 M336.22 314.1L354.38 295.3" stroke="#000" stroke-width="2" fill="none"/>
<ellipse cx="321.85" cy="304.7" rx="17.7" ry="6.45" fill="none" stroke="#000" stroke-width="1.9"/>
<text x="344.2" y="310.1" font-size="12" text-anchor="start" font-family="Liberation Sans" >clinical flares</text>
<path d="M297.65 325.4L304.4 314.1L311.15 325.4Z" fill="#333" stroke="#111" stroke-width="1" stroke-linejoin="miter"/>
<text x="316" y="326.9" font-size="12" text-anchor="start" font-family="Liberation Sans" >cidofovir</text>
<rect x="369.1" y="314.95" width="11" height="10.7" fill="#fff" stroke="#111" stroke-width="1.4"/>
<text x="388.1" y="326.9" font-size="12.2" text-anchor="start" font-family="Liberation Sans" >vinblastine or etoposide</text></svg>
</body></html>
